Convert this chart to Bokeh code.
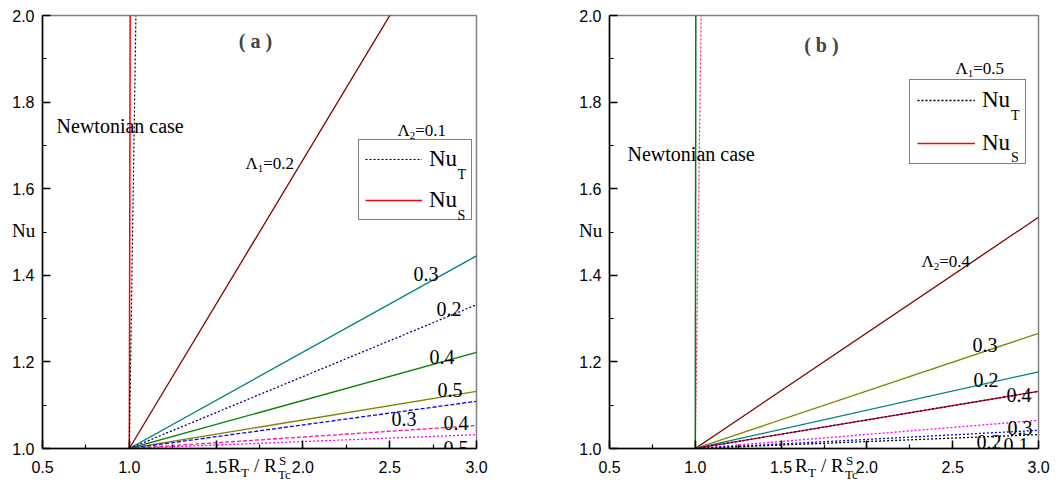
from bokeh.plotting import figure
from bokeh.layouts import row
from bokeh.models import (Range1d, SingleIntervalTicker, PrintfTickFormatter,
                          Label, Legend, LegendItem, Div)
from bokeh.embed import file_html
from bokeh.resources import INLINE

# ---------------- data ----------------
x_span = [1.0, 3.0]
nu_start = 1.0

# panel (a): Lambda2 = 0.1, varying Lambda1
a_newt_S_x = [1.0, 1.005]
a_newt_S_y = [1.0, 2.0]
a_newt_T_x = [1.0, 1.038]
a_newt_T_y = [1.0, 2.0]
a_lambda1 = ["0.2", "0.3", "0.4", "0.5"]
a_NuS_end = [2.333, 1.445, 1.222, 1.132]
a_NuT_end = [1.332, 1.109, 1.053, 1.032]
a_NuS_colors = ["#800000", "#008080", "#008000", "#808000"]
a_NuT_colors = ["#000080", "#0000ff", "#ff1493", "#ff00ff"]
a_NuT_dash = ["2 2", "4 2", "4 2", "2 2"]

# panel (b): Lambda1 = 0.5, varying Lambda2
b_newt_S_x = [1.0, 1.003]
b_newt_S_y = [1.0, 2.0]
b_newt_T_x = [1.0, 1.034]
b_newt_T_y = [1.0, 2.0]
b_lambda2 = ["0.4", "0.3", "0.2", "0.1"]
b_NuS_end = [1.534, 1.266, 1.177, 1.132]
b_NuT_end = [1.132, 1.065, 1.042, 1.032]
b_NuS_colors = ["#800000", "#808000", "#008080", "#ff0000"]
b_NuT_colors = ["#000080", "#ff00ff", "#0000ff", "#000000"]

x_ticks_interval = 0.5
y_ticks_interval = 0.2

SERIF = "Liberation Serif"
SANS = "Liberation Sans"

# layout geometry (px)
A_LEFT, A_FW, A_RIGHT = 42, 434, 52
B_LEFT, B_FW, B_RIGHT = 81, 429, 19
TOP, FH, BOTTOM = 15, 433, 35
A_X0 = A_LEFT
B_X0 = A_LEFT + A_FW + A_RIGHT + B_LEFT

W = {'0': .5, '1': .5, '2': .5, '3': .5, '4': .5, '5': .5, '6': .5, '7': .5,
     '8': .5, '9': .5, '.': .25, '=': .564, 'Λ': .722, 'N': .722, 'u': .5,
     'T': .611, 'S': .556, 'R': .667, '/': .278, ' ': .25, 'c': .444}


def tw(s, size):
    return sum(W.get(c, .5) for c in s) * size


def rich(p, x, y, parts, font=SERIF, level="annotation"):
    off = 0.0
    for text, size, dy, adv in parts:
        p.add_layout(Label(x=x, y=y, x_offset=off, y_offset=dy, text=text,
                           text_font=font, text_font_size=f"{size}px",
                           text_baseline="alphabetic", text_align="left",
                           text_color="black", level=level))
        if adv:
            off += tw(text, size)


def page_text(text, left, baseline, size, font=SERIF):
    top = baseline - 0.8375 * size
    return Div(text=text, margin=0,
               styles={"position": "absolute", "left": f"{left:.1f}px",
                       "top": f"{top:.1f}px", "font-family": f"'{font}'",
                       "font-size": f"{size}px", "line-height": "1",
                       "color": "black", "white-space": "nowrap"})


def make_fig(left, fw, right):
    p = figure(frame_width=fw, frame_height=FH,
               min_border_left=left, min_border_right=right,
               min_border_top=TOP, min_border_bottom=BOTTOM,
               x_range=Range1d(0.5, 3.0), y_range=Range1d(1.0, 2.0),
               output_backend="svg", toolbar_location=None,
               background_fill_color="white", border_fill_color="white")
    p.xgrid.visible = False
    p.ygrid.visible = False
    p.outline_line_color = "#808080"
    p.outline_line_width = 1.5
    p.xaxis.ticker = SingleIntervalTicker(interval=x_ticks_interval, num_minor_ticks=2)
    p.yaxis.ticker = SingleIntervalTicker(interval=y_ticks_interval, num_minor_ticks=2)
    for ax in (p.xaxis[0], p.yaxis[0]):
        ax.formatter = PrintfTickFormatter(format="%.1f")
        ax.major_tick_in = 8
        ax.major_tick_out = 0
        ax.minor_tick_in = 4
        ax.minor_tick_out = 0
        ax.axis_line_color = "black"
        ax.axis_line_width = 1.5
        ax.major_tick_line_color = "black"
        ax.major_tick_line_width = 1.5
        ax.minor_tick_line_color = "black"
        ax.minor_tick_line_width = 1.2
        ax.major_label_text_font = SANS
        ax.major_label_text_font_size = "16px"
        ax.major_label_text_color = "black"
    p.xaxis[0].major_label_standoff = 12
    p.yaxis[0].major_label_standoff = 8
    return p


def outside_texts(x0):
    # y-axis title "Nu" and x-axis title R_T / R^S_Tc (outside the plot frame)
    L = x0 + 186
    return [page_text("Nu", x0 - 30, 236.5, 19),
            page_text("R", L, 472, 19),
            page_text("T", L + 13, 477, 13),
            page_text("/ R", L + 26, 472, 19),
            page_text("S", L + 51, 465, 13),
            page_text("Tc", L + 50, 479, 13)]


def legend(items, loc, gw, pad, spacing):
    return Legend(items=items, location=loc, glyph_width=gw, glyph_height=20,
                  label_standoff=7, label_width=36, spacing=spacing, padding=pad,
                  margin=0, label_text_font=SERIF, label_text_font_size="23px",
                  label_text_color="black",
                  border_line_color="black", border_line_width=1.5,
                  background_fill_alpha=0.0)


NUM = 20  # size of the curve labels

# ---------------- panel (a) ----------------
pa = make_fig(A_LEFT, A_FW, A_RIGHT)
rS_a = pa.line(a_newt_S_x, a_newt_S_y, line_color="#ff0000", line_width=1.5)
rT_a = pa.line(a_newt_T_x, a_newt_T_y, line_color="#000000", line_width=1.2, line_dash="2 2")
for end, col in zip(a_NuS_end, a_NuS_colors):
    pa.line(x_span, [nu_start, end], line_color=col, line_width=1.3)
for end, col, dash in zip(a_NuT_end, a_NuT_colors, a_NuT_dash):
    pa.line(x_span, [nu_start, end], line_color=col, line_width=1.3, line_dash=dash)

pa.add_layout(legend([LegendItem(label="Nu", renderers=[rT_a]),
                      LegendItem(label="Nu", renderers=[rS_a])],
                     (316, 228), 57, 6, 15))

pa.add_layout(Label(x=1.727, y=1.940, text="( a )", text_font=SERIF, text_font_style="bold",
                    text_font_size="20px", text_align="center", text_baseline="alphabetic"))
rich(pa, 0.581, 1.744, [("Newtonian case", 20, 0, True)])
rich(pa, 1.669, 1.658, [("Λ", 17, 0, True), ("1", 11, -5, True), ("=0.2", 17, 0, True)])
rich(pa, 2.545, 1.734, [("Λ", 17, 0, True), ("2", 11, -5, True), ("=0.1", 17, 0, True)])
rich(pa, 2.891, 1.633, [("T", 14, 0, True)], level="overlay")
rich(pa, 2.891, 1.539, [("S", 14, 0, True)], level="overlay")
for tx, ty, t in [(2.637, 1.403, a_lambda1[1]), (2.770, 1.322, a_lambda1[0]),
                  (2.729, 1.211, a_lambda1[2]), (2.775, 1.135, a_lambda1[3]),
                  (2.510, 1.068, a_lambda1[1]), (2.810, 1.059, a_lambda1[2]),
                  (2.810, 1.001, a_lambda1[3])]:
    rich(pa, tx, ty, [(t, NUM, 0, True)])

# ---------------- panel (b) ----------------
pb = make_fig(B_LEFT, B_FW, B_RIGHT)
pb.line(b_newt_T_x, b_newt_T_y, line_color="#ff1493", line_width=1.2, line_dash="2 2")
pb.line(b_newt_S_x, b_newt_S_y, line_color="#008000", line_width=1.5)
rS_b = []
for end, col in zip(b_NuS_end, b_NuS_colors):
    rS_b.append(pb.line(x_span, [nu_start, end], line_color=col, line_width=1.3))
rT_b = []
for end, col in zip(b_NuT_end, b_NuT_colors):
    rT_b.append(pb.line(x_span, [nu_start, end], line_color=col, line_width=1.3, line_dash="2 2"))

pb.add_layout(legend([LegendItem(label="Nu", renderers=[rT_b[3]]),
                      LegendItem(label="Nu", renderers=[rS_b[3]])],
                     (300, 284), 58, 7, 17))

pb.add_layout(Label(x=1.735, y=1.931, text="( b )", text_font=SERIF, text_font_style="bold",
                    text_font_size="20px", text_align="center", text_baseline="alphabetic"))
rich(pb, 0.605, 1.681, [("Newtonian case", 20, 0, True)])
rich(pb, 2.516, 1.878, [("Λ", 17, 0, True), ("1", 11, -5, True), ("=0.5", 17, 0, True)])
rich(pb, 2.318, 1.432, [("Λ", 17, 0, True), ("2", 11, -5, True), ("=0.4", 17, 0, True)])
rich(pb, 2.840, 1.770, [("T", 14, 0, True)], level="overlay")
rich(pb, 2.840, 1.673, [("S", 14, 0, True)], level="overlay")
for tx, ty, t in [(2.615, 1.239, b_lambda2[1]), (2.621, 1.158, b_lambda2[2]),
                  (2.813, 1.124, b_lambda2[0]), (2.819, 1.047, b_lambda2[1]),
                  (2.639, 1.015, b_lambda2[2]), (2.796, 1.008, b_lambda2[3])]:
    rich(pb, tx, ty, [(t, NUM, 0, True)])

divs = outside_texts(A_X0) + outside_texts(B_X0)
layout = row(pa, pb, *divs)
open("out.html", "w").write(file_html(layout, INLINE))
